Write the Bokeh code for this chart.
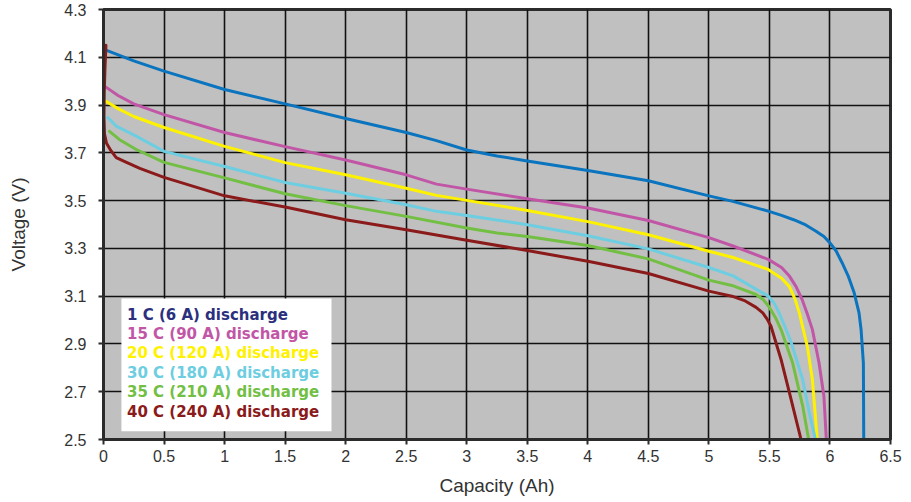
from bokeh.plotting import figure
from bokeh.models import Range1d, FixedTicker, BoxAnnotation, Label
from bokeh.embed import file_html
from bokeh.resources import INLINE

# ---------------- data ----------------
x_ticks = [0, 0.5, 1, 1.5, 2, 2.5, 3, 3.5, 4, 4.5, 5, 5.5, 6, 6.5]
x_tick_labels = ["0", "0.5", "1", "1.5", "2", "2.5", "3", "3.5", "4", "4.5", "5", "5.5", "6", "6.5"]
y_ticks = [2.5, 2.7, 2.9, 3.1, 3.3, 3.5, 3.7, 3.9, 4.1, 4.3]
y_tick_labels = ["2.5", "2.7", "2.9", "3.1", "3.3", "3.5", "3.7", "3.9", "4.1", "4.3"]

cap_1c = [0.02, 0.25, 0.5, 1.0, 1.5, 2.0, 2.5, 2.75, 3.0, 3.25, 3.5, 4.0, 4.5, 5.0, 5.19, 5.49,
          5.6, 5.7, 5.8, 5.885, 5.95, 6.0, 6.05, 6.1, 6.15, 6.2, 6.24, 6.257, 6.276, 6.279]
volt_1c = [4.13, 4.085, 4.042, 3.965, 3.905, 3.844, 3.785, 3.751, 3.712, 3.687, 3.666, 3.626, 3.583,
           3.52, 3.498, 3.456, 3.438, 3.42, 3.398, 3.372, 3.35, 3.323, 3.29, 3.24, 3.185, 3.114,
           3.03, 2.96, 2.82, 2.5]

cap_15c = [0.02, 0.12, 0.25, 0.5, 1.0, 1.5, 2.0, 2.5, 2.75, 3.0, 3.5, 4.0, 4.5, 5.0, 5.2, 5.49, 5.6,
           5.665, 5.72, 5.77, 5.81, 5.855, 5.91, 5.95, 5.97]
volt_15c = [3.975, 3.94, 3.905, 3.86, 3.785, 3.726, 3.67, 3.608, 3.569, 3.548, 3.508, 3.469, 3.417,
            3.345, 3.31, 3.254, 3.22, 3.184, 3.14, 3.086, 3.03, 2.96, 2.82, 2.681, 2.5]

cap_20c = [0.02, 0.12, 0.25, 0.5, 1.0, 1.5, 2.0, 2.5, 2.75, 3.0, 3.5, 4.0, 4.5, 5.0, 5.2, 5.49, 5.6,
           5.665, 5.71, 5.747, 5.78, 5.813, 5.855, 5.895]
volt_20c = [3.916, 3.885, 3.852, 3.806, 3.727, 3.659, 3.608, 3.552, 3.522, 3.501, 3.459, 3.412,
            3.357, 3.288, 3.262, 3.212, 3.175, 3.14, 3.09, 3.03, 2.96, 2.89, 2.75, 2.5]

cap_30c = [0.035, 0.105, 0.27, 0.5, 1.0, 1.5, 2.0, 2.5, 2.75, 3.0, 3.5, 4.0, 4.5, 5.0, 5.2, 5.49,
           5.54, 5.58, 5.63, 5.68, 5.775, 5.83, 5.88]
volt_30c = [3.848, 3.812, 3.77, 3.706, 3.643, 3.576, 3.531, 3.483, 3.455, 3.438, 3.399, 3.353, 3.298,
            3.22, 3.185, 3.10, 3.07, 3.03, 2.97, 2.906, 2.75, 2.61, 2.5]

cap_35c = [0.05, 0.13, 0.27, 0.5, 1.0, 1.5, 2.0, 2.5, 3.0, 3.25, 3.5, 4.0, 4.5, 5.0, 5.19, 5.39,
           5.45, 5.494, 5.55, 5.596, 5.692, 5.775, 5.824]
volt_35c = [3.79, 3.756, 3.714, 3.66, 3.595, 3.529, 3.479, 3.434, 3.385, 3.364, 3.35, 3.312, 3.256,
            3.167, 3.145, 3.107, 3.085, 3.058, 3.01, 2.96, 2.82, 2.64, 2.5]

cap_40c = [0.02, 0.012, 0.006, 0.004, 0.008, 0.025, 0.06, 0.105, 0.19, 0.3, 0.5, 1.0, 1.5, 2.0, 2.5,
           3.0, 3.5, 4.0, 4.5, 5.0, 5.19, 5.3, 5.39, 5.445, 5.48, 5.513, 5.596, 5.665, 5.761]
volt_40c = [4.15, 4.05, 3.95, 3.85, 3.78, 3.74, 3.71, 3.68, 3.66, 3.635, 3.597, 3.52, 3.473, 3.42,
            3.378, 3.334, 3.291, 3.246, 3.195, 3.121, 3.10, 3.08, 3.053, 3.03, 3.005, 2.974, 2.835,
            2.696, 2.5]

series_names = ["1 C (6 A) discharge", "15 C (90 A) discharge", "20 C (120 A) discharge",
                "30 C (180 A) discharge", "35 C (210 A) discharge", "40 C (240 A) discharge"]
series_x = [cap_1c, cap_15c, cap_20c, cap_30c, cap_35c, cap_40c]
series_y = [volt_1c, volt_15c, volt_20c, volt_30c, volt_35c, volt_40c]
line_colors = ["#0a74bf", "#c256a6", "#fff200", "#6dcde1", "#72bf44", "#8b1a1a"]
legend_colors = ["#2b2f7e", "#c256a6", "#fff200", "#6dcde1", "#72bf44", "#8b1a1a"]

# ---------------- figure ----------------
p = figure(width=902, height=500, output_backend="svg", toolbar_location=None,
           x_range=Range1d(0, 6.5), y_range=Range1d(2.5, 4.3),
           min_border_left=103, min_border_right=12, min_border_top=9, min_border_bottom=61)
p.background_fill_color = "#c0c0c0"
p.border_fill_color = "white"
p.outline_line_color = "#2b2b2b"
p.outline_line_width = 3

p.xaxis.ticker = FixedTicker(ticks=x_ticks)
p.yaxis.ticker = FixedTicker(ticks=y_ticks)
p.xaxis.major_label_overrides = dict(zip(x_ticks, x_tick_labels))
p.yaxis.major_label_overrides = dict(zip(y_ticks, y_tick_labels))

for ax in (p.xaxis, p.yaxis):
    ax.axis_line_color = "#2b2b2b"
    ax.axis_line_width = 3
    ax.major_tick_line_color = "#2b2b2b"
    ax.major_tick_line_width = 2
    ax.major_tick_out = 5
    ax.major_tick_in = 0
    ax.minor_tick_line_color = None
    ax.major_label_text_font = "Liberation Sans"
    ax.major_label_text_font_size = "16px"
    ax.major_label_text_color = "#333333"
    ax.axis_label_text_font = "Liberation Sans"
    ax.axis_label_text_font_size = "19px"
    ax.axis_label_text_font_style = "normal"
    ax.axis_label_text_color = "#333333"

p.xaxis.axis_label = "Capacity (Ah)"
p.yaxis.axis_label = "Voltage (V)"
p.xaxis.major_label_standoff = 5
p.yaxis.major_label_standoff = 12
p.xaxis.axis_label_standoff = 10
p.yaxis.axis_label_standoff = 32

p.grid.grid_line_color = "#111111"
p.grid.grid_line_width = 1.6
p.grid.grid_line_alpha = 1

for xs, ys, c in zip(series_x, series_y, line_colors):
    p.line(xs, ys, line_color=c, line_width=3, line_join="round", line_cap="round")

# legend box
p.add_layout(BoxAnnotation(left=0.148, right=1.883, bottom=2.535, top=3.09,
                           fill_color="white", fill_alpha=1, line_color=None))
for i, (name, c) in enumerate(zip(series_names, legend_colors)):
    p.add_layout(Label(x=0.194, y=3.023 - i * 0.0812, text=name, text_color=c,
                       text_font="DejaVu Sans", text_font_style="bold",
                       text_font_size="15px", text_baseline="middle"))

open("out.html", "w").write(file_html(p, INLINE))
